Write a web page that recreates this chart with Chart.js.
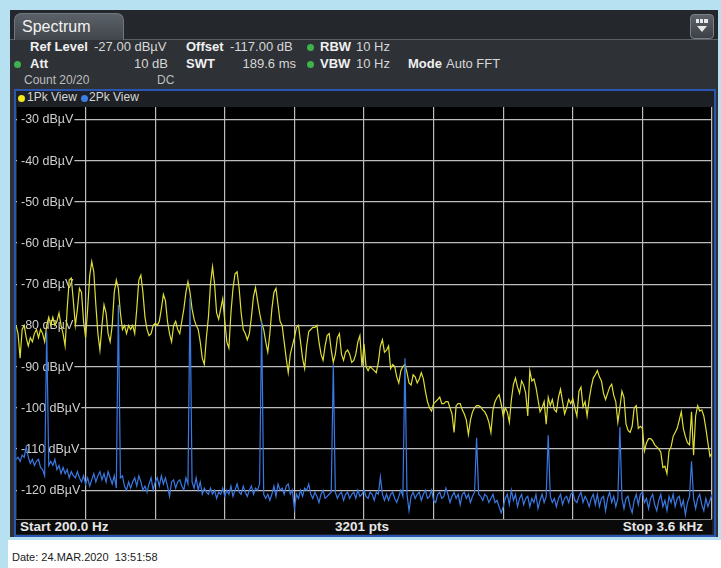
<!DOCTYPE html>
<html>
<head>
<meta charset="utf-8">
<script src="https://cdn.jsdelivr.net/npm/chart.js@4.4.1/dist/chart.umd.min.js"></script>
<style>
  html, body { margin: 0; padding: 0; }
  body { width: 721px; height: 568px; background: #b7e1f1; position: relative; overflow: hidden;
         font-family: "Liberation Sans", Arial, sans-serif; }
  .abs { position: absolute; white-space: nowrap; }
  #footer { left: 8px; top: 540px; width: 713px; height: 28px; background: #ffffff; }
  #date { left: 12px; top: 551px; font-size: 11px; color: #1a1a1a; }
  #panel { left: 10px; top: 10px; width: 708px; height: 527px; background: #2e3237; }
  #tabrow { left: 10px; top: 10px; width: 708px; height: 29px; background: #24272b; border-bottom: 1px solid #5a6068; }
  #tab { left: 14px; top: 13px; width: 108px; height: 26px; border-radius: 7px 7px 0 0;
         background: linear-gradient(#5b6168, #41464c); border: 1px solid #70767d; border-bottom: none; }
  #tab span { position: absolute; left: 7px; top: 4px; font-size: 16px; color: #f2f2f2; }
  #menu { left: 690px; top: 14px; width: 22px; height: 23px; border-radius: 4px;
          background: linear-gradient(#5d636a, #3b4046); border: 1px solid #7a8087; }
  .hdr { font-size: 13px; color: #d6d6d6; line-height: 14px; }
  .sm { font-size: 12px; }
  .b { font-weight: bold; color: #f0f0f0; }
  .dim { color: #bdbdbd; }
  .dot { position: absolute; width: 7px; height: 7px; border-radius: 50%; }
  .green { background: #3fb24e; }
  #frame { left: 14px; top: 89px; width: 698px; height: 444px; border: 2px solid #2a55b0; background: #1d2024; }
  #plot { position: absolute; left: 16px; top: 106px; }
  #bottombar { left: 16px; top: 519px; width: 696px; height: 14px; background: #0a0a0a; border-top: 1px solid #7c7c7c; }
  .bot { font-size: 13.5px; font-weight: bold; color: #e6e6e6; line-height: 14px; }
</style>
</head>
<body>
<div id="footer" class="abs"></div>
<div id="date" class="abs">Date: 24.MAR.2020&nbsp;&nbsp;13:51:58</div>

<div id="panel" class="abs"></div>
<div id="tabrow" class="abs"></div>
<div id="tab" class="abs"><span>Spectrum</span></div>
<div id="menu" class="abs">
  <div class="abs" style="left:5px;top:4px;width:12px;height:4px;background:#e8e8e8;"></div>
  <div class="abs" style="left:8px;top:4px;width:1px;height:4px;background:#50565c;"></div>
  <div class="abs" style="left:12px;top:4px;width:1px;height:4px;background:#50565c;"></div>
  <div class="abs" style="left:6px;top:11px;width:0;height:0;border-left:5px solid transparent;border-right:5px solid transparent;border-top:6px solid #e8e8e8;"></div>
</div>

<!-- measurement settings -->
<div class="abs hdr b" style="left:30px;top:40px;">Ref Level</div>
<div class="abs hdr" style="left:94px;top:40px;">-27.00 dBµV</div>
<div class="abs hdr b" style="left:186px;top:40px;">Offset</div>
<div class="abs hdr" style="left:230px;top:40px;">-117.00 dB</div>
<div class="dot green" style="left:307px;top:44px;"></div>
<div class="abs hdr b" style="left:320px;top:40px;">RBW</div>
<div class="abs hdr" style="left:356px;top:40px;">10 Hz</div>

<div class="dot green" style="left:14px;top:61px;"></div>
<div class="abs hdr b" style="left:30px;top:57px;">Att</div>
<div class="abs hdr" style="right:553px;top:57px;">10 dB</div>
<div class="abs hdr b" style="left:186px;top:57px;">SWT</div>
<div class="abs hdr" style="right:425px;top:57px;">189.6 ms</div>
<div class="dot green" style="left:307px;top:61px;"></div>
<div class="abs hdr b" style="left:320px;top:57px;">VBW</div>
<div class="abs hdr" style="left:356px;top:57px;">10 Hz</div>
<div class="abs hdr b" style="left:408px;top:57px;">Mode</div>
<div class="abs hdr" style="left:446px;top:57px;">Auto FFT</div>

<div class="abs hdr sm dim" style="left:24px;top:73px;">Count 20/20</div>
<div class="abs hdr sm dim" style="left:157px;top:73px;">DC</div>

<div id="frame" class="abs"></div>
<div class="dot" style="left:18px;top:95px;background:#f2e81c;"></div>
<div class="abs hdr sm" style="left:27px;top:90px;">1Pk View</div>
<div class="dot" style="left:81px;top:95px;background:#3d7ee6;"></div>
<div class="abs hdr sm" style="left:89px;top:90px;">2Pk View</div>

<canvas id="plot" width="699" height="414"></canvas>

<div id="bottombar" class="abs"></div>
<div class="abs bot" style="left:20px;top:520px;">Start 200.0 Hz</div>
<div class="abs bot" style="left:362px;top:520px;transform:translateX(-50%);">3201 pts</div>
<div class="abs bot" style="right:18px;top:520px;">Stop 3.6 kHz</div>

<script>
// Sweep: 200 Hz .. 3.6 kHz, levels in dBµV sampled every 10 Hz
const startHz = 200;
const stopHz = 3600;
const stepHz = 10;

// Trace 1 (1Pk View, yellow)
const trace1Pk = [
  -80, -82, -88, -81, -80, -83, -85, -83, -84, -82,
  -81, -83, -81, -82, -84, -80, -78, -80, -78, -80,
  -79, -77, -80, -82, -85, -76, -69, -68.5, -74, -80,
  -76, -71, -72, -79, -83, -76, -68, -64.5, -67, -75,
  -82, -86, -80, -75, -77, -82, -84, -80, -72, -69,
  -71, -77, -81, -80, -82, -80, -81, -80, -82, -76,
  -69, -67.8, -72, -78, -81, -82.5, -82, -80, -79.5, -80,
  -79, -76, -72.5, -74, -79, -82, -84, -80, -79, -81,
  -82, -79, -76, -72, -69.4, -72, -76, -78.5, -80, -81,
  -84, -88, -89.5, -83, -78, -70, -65.8, -70, -77, -78.5,
  -76, -73.5, -79, -84, -85.5, -77, -71, -67.5, -67, -71,
  -77, -81, -82, -83.5, -82, -78, -73, -70.8, -74, -77,
  -79.5, -81, -84, -86.5, -82, -76, -72, -71, -75, -79,
  -80, -84, -88, -91.5, -87, -85, -83, -80.5, -80, -84,
  -88, -90.5, -85, -81.5, -81, -80.5, -80.5, -80, -84, -87,
  -88.5, -85, -82.5, -82, -86, -89, -87, -83, -82, -87,
  -88.5, -86.5, -86, -87, -89, -88.5, -87, -84, -82.5, -90,
  -84.5, -90, -91, -90, -90.5, -91, -91.5, -89, -85, -83.5,
  -86.5, -86, -85, -90.5, -89.5, -90, -92.5, -94, -91, -90,
  -89.5, -91.5, -94, -94.5, -92, -92.5, -94, -93, -91.5, -93,
  -96, -98.5, -100, -100.8, -99, -98.5, -98, -97.4, -99, -99,
  -98.5, -98.5, -100, -101.5, -106, -99.5, -99, -99, -100.5, -101.5,
  -103, -106.5, -103, -101, -100, -99.5, -99.5, -99.8, -100.5, -101,
  -102, -103.5, -106, -100.5, -98.5, -97.5, -96.8, -99, -102, -100,
  -101, -103.5, -98, -94.3, -92.8, -95, -96.5, -93.5, -94.5, -96.5,
  -102, -91, -93.5, -93, -95, -98, -101, -100, -98.5, -104,
  -97.5, -99.5, -98, -100.5, -101, -97.5, -95.5, -98.5, -101.5, -100,
  -98, -99, -97.8, -100, -102, -96, -95, -99.8, -98.5, -102,
  -98, -95, -92.8, -92, -91, -92.5, -93.5, -96.5, -98, -96.5,
  -95, -94.3, -97, -98.5, -103.5, -100, -96, -97.5, -104, -105.5,
  -106, -104.5, -100, -99.5, -105, -104.5, -105, -110.5, -108.5, -107.5,
  -107.5, -108, -109, -109.5, -110, -110.8, -114.5, -114.2, -116, -110.5,
  -109.5, -107, -106, -105, -103, -101, -105, -107, -108.5, -109,
  -101, -111.5, -102, -99.5, -100.8, -100.5, -102, -105, -108.5, -111.8,
  -111
];

// Trace 2 (2Pk View, blue): noise floor
const trace2Floor = [
  -112.5, -112, -113, -111.5, -112, -109.5, -112, -113.5, -112.5, -114,
  -113, -112.5, -114.5, -115, -116.5, -115, -114, -113, -114, -112.5,
  -115, -114, -116, -114.5, -116, -115, -117, -115.5, -116.5, -117,
  -115.5, -117, -118, -116.5, -118.5, -117, -119, -117.5, -116, -118,
  -116.5, -115.5, -117.5, -116, -118, -115.5, -117, -118.5, -116.5, -119.5,
  -118, -117, -116.5, -119, -120, -118, -119.5, -118, -117, -119,
  -116.5, -118, -120, -119, -120.5, -118.5, -117, -120, -118, -117,
  -119, -116.5, -118.5, -117, -119, -121.5, -118, -117.5, -119.5, -118,
  -117.5, -119, -120, -117, -118.5, -119, -118, -119.5, -117, -120,
  -118, -121, -119.5, -120.5, -121, -119.5, -121, -120, -122, -120.5,
  -121, -119.5, -121.5, -120, -121, -119, -121.5, -120, -118.5, -120.5,
  -121, -119, -120.5, -121.5, -120, -119, -121, -119.5, -120, -118.5,
  -120, -121, -122, -121, -122.5, -121, -119, -121.5, -118.5, -120,
  -119.5, -121, -119, -118.5, -121, -120, -124.5, -121, -122, -120,
  -121.5, -119.5, -120, -118.5, -121, -122, -120.5, -121.5, -123, -121,
  -120, -122, -121.5, -121, -120.5, -121, -120.5, -122, -121, -120.5,
  -122.5, -121, -120.5, -122, -121, -120.5, -122, -120, -121.5, -121,
  -120, -121.5, -122, -120.5, -121, -122.5, -120.5, -121, -116.8, -121,
  -122.5, -121, -122.5, -121, -120.5, -122, -123, -121.5, -120, -121.5,
  -121, -121, -125, -121.5, -120.5, -122, -121, -120.5, -122.5, -121,
  -120, -122, -121.5, -120, -122.5, -123, -121, -120.5, -122, -121.5,
  -119.5, -121, -123, -121.5, -120.5, -122, -121, -123.5, -121, -120.5,
  -122, -121, -123, -121.5, -120.5, -121, -121, -121.5, -122.5, -121,
  -121.5, -123, -122, -121, -123, -122.5, -124, -125.5, -124, -122,
  -121, -123.5, -120, -122.5, -121, -124, -122, -121, -123.5, -122,
  -121.5, -124, -122, -123, -121, -124.5, -122.5, -121, -123, -121.5,
  -122, -121.5, -123, -122, -124, -122, -121, -123.5, -122, -121.5,
  -123, -121, -120.5, -122.5, -123, -121.5, -120.5, -123, -121.5, -122.5,
  -124, -122, -121, -123.5, -121, -124, -122, -121.5, -125, -122,
  -120.5, -123, -121.5, -124, -122, -122, -122, -124.5, -122, -121.5,
  -124, -125.5, -122.5, -121, -123.5, -121, -120.5, -123, -122, -124.5,
  -122, -121, -123.5, -125, -122.5, -121, -124, -122.5, -125, -121.5,
  -123, -121, -124, -122, -121.5, -124, -122.5, -126, -123, -121.5,
  -122, -122, -124.5, -122, -121, -123.5, -125, -122, -124, -122.5,
  -121
];

// Trace 2 harmonic lines (350 Hz fundamental)
const harmonicHz = [350, 700, 1050, 1400, 1750, 2100, 2450, 2800, 3150, 3500];
const harmonicLevel = [-81.5, -75, -73.2, -79, -89.4, -88, -107.3, -106.7, -104.7, -113];

// Axis divisions
const levelTicks = [-30, -40, -50, -60, -70, -80, -90, -100, -110, -120];
const freqGridHz = [200, 540, 880, 1220, 1560, 1900, 2240, 2580, 2920, 3260, 3600];
const levelMin = -127;
const levelMax = -27;

const trace1Points = trace1Pk.map((v, i) => ({ x: startHz + i * stepHz, y: v }));
const trace2Points = trace2Floor.map((v, i) => {
  const f = startHz + i * stepHz;
  const h = harmonicHz.indexOf(f);
  return { x: f, y: h >= 0 ? harmonicLevel[h] : v };
});

// Level labels sit inside the diagram on a black patch, under the traces
const levelLabels = {
  id: 'levelLabels',
  beforeDatasetsDraw(chart) {
    const { ctx, chartArea, scales } = chart;
    ctx.save();
    ctx.font = '12.5px "Liberation Sans", Arial, sans-serif';
    ctx.textBaseline = 'middle';
    levelTicks.forEach(v => {
      const y = scales.y.getPixelForValue(v);
      const txt = v + ' dBµV';
      const w = ctx.measureText(txt).width;
      ctx.fillStyle = '#000000';
      ctx.fillRect(chartArea.left + 1, y - 7, w + 5, 14);
      ctx.fillStyle = '#cfcfcf';
      ctx.fillText(txt, chartArea.left + 5, y + 0.5);
    });
    ctx.restore();
  }
};

const blackBg = {
  id: 'blackBg',
  beforeDraw(chart) {
    const { ctx, chartArea } = chart;
    ctx.save();
    ctx.fillStyle = '#000000';
    ctx.fillRect(chartArea.left, chartArea.top, chartArea.right - chartArea.left, chartArea.bottom - chartArea.top);
    ctx.restore();
  }
};

new Chart(document.getElementById('plot'), {
  type: 'line',
  data: {
    datasets: [
      { label: '1Pk View', data: trace1Points, borderColor: 'rgb(222,222,52)', borderWidth: 1.2,
        pointRadius: 0, tension: 0, order: 2 },
      { label: '2Pk View', data: trace2Points, borderColor: 'rgb(58,120,226)', borderWidth: 1.2,
        pointRadius: 0, tension: 0, order: 1 }
    ]
  },
  options: {
    responsive: false,
    animation: false,
    events: [],
    layout: { padding: { left: 0, right: 3, top: 1, bottom: 1 } },
    plugins: { legend: { display: false }, tooltip: { enabled: false } },
    scales: {
      x: {
        type: 'linear', min: startHz, max: stopHz,
        afterBuildTicks: s => { s.ticks = freqGridHz.map(v => ({ value: v })); },
        ticks: { display: false },
        grid: { color: '#bdbdbd', lineWidth: 1.2, drawTicks: false },
        border: { display: false }
      },
      y: {
        type: 'linear', min: levelMin, max: levelMax,
        afterBuildTicks: s => { s.ticks = levelTicks.map(v => ({ value: v })); },
        ticks: { display: false },
        grid: { color: '#bdbdbd', lineWidth: 1.2, drawTicks: false },
        border: { display: false }
      }
    }
  },
  plugins: [blackBg, levelLabels]
});
</script>
</body>
</html>
